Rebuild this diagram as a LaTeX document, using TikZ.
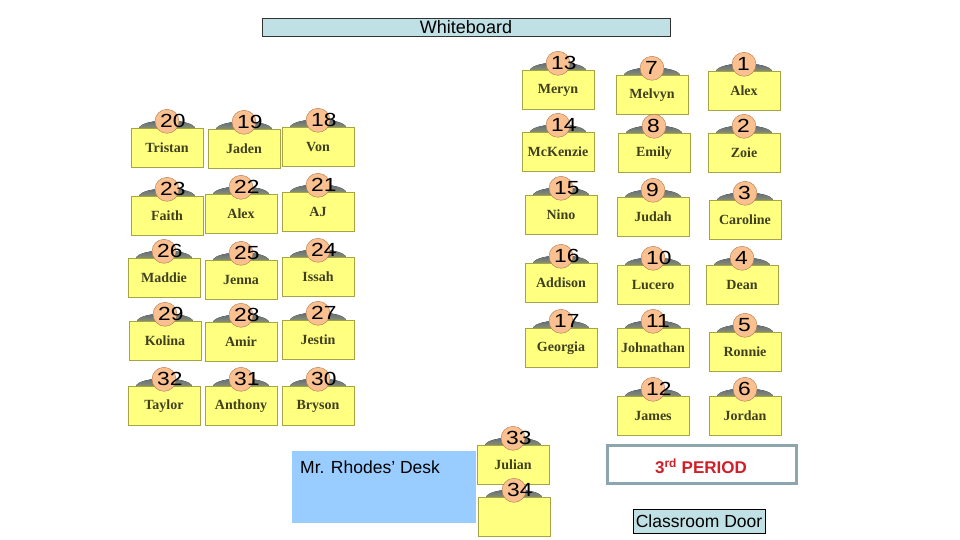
\documentclass[tikz,border=0pt]{standalone}
\usepackage{fontspec}
\setmainfont{Liberation Sans}
\newfontfamily\namefont{Liberation Serif}
\newfontfamily\numfont[FakeStretch=1.2]{Liberation Sans}

\definecolor{deskyellow}{RGB}{255,255,128}
\definecolor{deskedge}{RGB}{165,165,70}
\definecolor{seatpeach}{RGB}{250,192,143}
\definecolor{seatedge}{RGB}{175,120,80}
\definecolor{chairtop}{RGB}{95,108,125}
\definecolor{chairbot}{RGB}{185,180,95}
\definecolor{namecol}{RGB}{64,64,32}
\definecolor{boardblue}{RGB}{191,225,229}
\definecolor{teacherblue}{RGB}{153,204,255}
\definecolor{periodedge}{RGB}{140,165,175}
\definecolor{periodred}{RGB}{210,30,40}

\begin{document}
\begin{tikzpicture}[
            x=1pt,
            y=-1pt,
            desk/.style={draw=deskedge, fill=deskyellow, minimum width=72pt, minimum height=39pt,
                inner sep=0pt, text=namecol, font=\namefont\bfseries\fontsize{14}{16}\selectfont},
            seat/.style={circle, draw=seatedge, fill=seatpeach, minimum size=24pt, inner sep=0pt},
            num/.style={anchor=west, inner sep=0pt, font=\numfont\fontsize{19}{20}\selectfont},
            chair/.style={top color=chairtop, bottom color=chairbot},
            sign/.style={font=\fontsize{17.5}{20}\selectfont}
        ]
        \useasboundingbox (0,0) rectangle (960,540);

        % whiteboard
        \draw[fill=boardblue, draw=black!80] (262,18) rectangle (670,36);
        \node[sign, font=\fontsize{18}{20}\selectfont] (board) at (466,27) {Whiteboard};

        % desks: number / x / y / student
        \foreach \n/\x/\y/\who in {
            20/167/148/Tristan, 19/244/149/Jaden, 18/318/147/Von,
            23/167/216/Faith, 22/241/214/Alex, 21/318/212/AJ,
            26/164/278/Maddie, 25/241/280/Jenna, 24/318/277/Issah,
            29/165/341/Kolina, 28/241/342/Amir, 27/318/340/Jestin,
            32/164/406/Taylor, 31/241/406/Anthony, 30/318/406/Bryson,
            13/558/90/Meryn, 7/652/95/Melvyn, 1/744/91/Alex,
            14/558/152/McKenzie, 8/654/153/Emily, 2/744/153/Zoie,
            15/561/215/Nino, 9/653/217/Judah, 3/745/220/Caroline,
            16/561/283/Addison, 10/653/285/Lucero, 4/742/285/Dean,
            17/561/348/Georgia, 11/653/348/Johnathan, 5/745/352/Ronnie,
            12/653/416/James, 6/745/416/Jordan,
            33/513/465/Julian, 34/514/517/{}} {
            \fill[chair] (\x,\y-19.5) ellipse [x radius=28pt, y radius=8pt];
            \node[desk] (d\n) at (\x,\y) {\who};
            \node[seat] (s\n) at ([yshift=7pt]d\n.north) {};
            \node[num] (k\n) at ([xshift=-7pt]s\n.center) {\n};
        }

        % teacher, period, door
        \draw[draw=none, fill=teacherblue] (292,451) rectangle (476,523);
        \node[sign, anchor=west, inner sep=0pt] (teacher) at (300,467) {Mr. Rhodes’ Desk};
        \draw[line width=3pt, draw=periodedge, fill=white] (607,445) rectangle (796,483);
        \node[sign, text=periodred, font=\bfseries\fontsize{17}{20}\selectfont] (period) at (701,466) {3\textsuperscript{rd} PERIOD};
        \draw[fill=boardblue, draw=black] (633,509) rectangle (765,533);
        \node[sign] (door) at (699,521) {Classroom Door};
    \end{tikzpicture}
\end{document}
